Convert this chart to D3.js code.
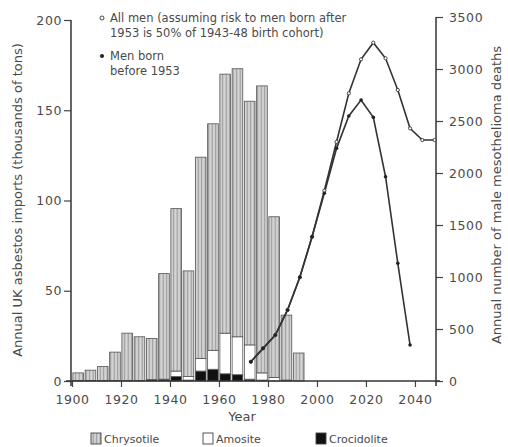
<!DOCTYPE html>
<html>
<head>
<meta charset="utf-8">
<script src="https://cdn.jsdelivr.net/npm/d3@7"></script>
<style>
  body { margin: 0; background: #fff; }
  svg text { font-family: "DejaVu Sans", sans-serif; fill: #4a4a4a; }
</style>
</head>
<body>
<div id="chart"></div>
<script>
const width = 508, height = 447;

// 5-year periods of imports (start year)
const periods = [1900,1905,1910,1915,1920,1925,1930,1935,1940,1945,1950,1955,1960,1965,1970,1975,1980,1985,1990];
// thousands of tons, per fibre type
const chrysotile = [4.2,5.7,7.7,15.7,26.2,24.2,22.7,58.5,90,58.5,111.5,125.5,143.5,148.5,135,159,89,36,15.5];
const amosite =    [0,0,0,0,0,0,0,0,3,2,7,10.5,22.5,21,19,4,2,0.5,0];
const crocidolite = [0.3,0.3,0.3,0.3,0.3,0.3,0.8,1,2.5,0.5,5.5,6.5,4,3.5,1,0.5,0,0,0];

// predicted male mesothelioma deaths
const deathYearsBefore = [1973,1978,1983,1988,1993,1998,2003,2008,2013,2018,2023,2028,2033,2038];
const deathsBefore = [185,314,442,683,997,1387,1805,2237,2548,2702,2535,1964,1132,346];
const deathYearsAll = [1973,1978,1983,1988,1993,1998,2003,2008,2013,2018,2023,2028,2033,2038,2043,2048];
const deathsAll = [185,314,442,683,997,1387,1830,2300,2766,3093,3253,3103,2798,2430,2317,2317];

const leftTicks = [0,50,100,150,200];
const rightTicks = [0,500,1000,1500,2000,2500,3000,3500];
const yearTicks = [1900,1920,1940,1960,1980,2000,2020,2040];

const svg = d3.select('#chart').append('svg')
  .attr('width', width)
  .attr('height', height);

// striped fill for chrysotile
const pat = svg.append('defs').append('pattern')
  .attr('id', 'stripes')
  .attr('patternUnits', 'userSpaceOnUse')
  .attr('width', 3.5).attr('height', 10)
pat.append('rect').attr('width', 3.5).attr('height', 10).attr('fill', '#d6d6d6')
pat.append('rect').attr('x', 1.6).attr('width', 1.2).attr('height', 10).attr('fill', '#9a9a9a')

const xScale = d3.scaleLinear().domain([1900, 2049]).range([72, 437]);
const yLeft = d3.scaleLinear().domain([0, 200]).range([381, 20]);
const yRight = d3.scaleLinear().domain([0, 3500]).range([381, 17]);

// stacked bars: crocidolite bottom, amosite, chrysotile on top
const rows = periods.map((p, i) => ({
  period: p, crocidolite: crocidolite[i], amosite: amosite[i], chrysotile: chrysotile[i]
}));
const series = d3.stack().keys(['crocidolite','amosite','chrysotile'])(rows);
const fills = {crocidolite: '#111', amosite: '#fff', chrysotile: 'url(#stripes)'};

svg.append('g')
  .selectAll('g')
  .data(series)
  .join('g')
  .attr('fill', d => fills[d.key])
  .attr('stroke', '#555')
  .attr('stroke-width', 0.8)
  .selectAll('rect')
  .data(d => d.filter(v => v[1] - v[0] > 0))
  .join('rect')
  .attr('x', d => xScale(d.data.period) + 0.9)
  .attr('width', d => xScale(d.data.period + 5) - xScale(d.data.period) - 1.6)
  .attr('y', d => yLeft(d[1]))
  .attr('height', d => yLeft(d[0]) - yLeft(d[1]));

// axes
const fontSize = 12.5;
const styleAxis = g => {
  g.select('.domain').remove();
  g.selectAll('.tick line').attr('stroke', '#444').attr('stroke-width', 1.2);
  g.selectAll('.tick text')
    .style('font-size', fontSize + 'px')
    .style('letter-spacing', '0.6px')
    .attr('fill', '#4a4a4a');
}

svg.append('g')
  .attr('transform', 'translate(71,0)')
  .call(d3.axisLeft(yLeft).tickValues(leftTicks).tickSize(7).tickPadding(2))
  .call(styleAxis);

svg.append('g')
  .attr('transform', 'translate(436,0)')
  .call(d3.axisRight(yRight).tickValues(rightTicks).tickFormat(d3.format('d')).tickSize(7).tickPadding(6))
  .call(styleAxis);

svg.append('g')
  .attr('transform', 'translate(0,381)')
  .call(d3.axisBottom(xScale).tickValues(yearTicks).tickFormat(d3.format('d')).tickSize(6).tickPadding(8))
  .call(styleAxis);

// axis lines
svg.append('line').attr('x1', 71).attr('x2', 71).attr('y1', 20).attr('y2', 386)
  .attr('stroke', '#333').attr('stroke-width', 1.5);
svg.append('line').attr('x1', 436).attr('x2', 436).attr('y1', 17).attr('y2', 386)
  .attr('stroke', '#333').attr('stroke-width', 1.5);
svg.append('line').attr('x1', 66).attr('x2', 440).attr('y1', 381).attr('y2', 381)
  .attr('stroke', '#333').attr('stroke-width', 1.5);

// death projection lines
const lineGen = (years) => d3.line()
  .x((d, i) => xScale(years[i]))
  .y(d => yRight(d));

svg.append('path')
  .attr('d', lineGen(deathYearsAll)(deathsAll))
  .attr('fill', 'none').attr('stroke', '#333').attr('stroke-width', 1.6);
svg.append('path')
  .attr('d', lineGen(deathYearsBefore)(deathsBefore))
  .attr('fill', 'none').attr('stroke', '#333').attr('stroke-width', 1.6);

svg.append('g')
  .selectAll('circle')
  .data(deathsAll)
  .join('circle')
  .attr('cx', (d, i) => xScale(deathYearsAll[i]))
  .attr('cy', d => yRight(d))
  .attr('r', 1.6)
  .attr('fill', '#fff').attr('stroke', '#333').attr('stroke-width', 0.9);

svg.append('g')
  .selectAll('circle')
  .data(deathsBefore)
  .join('circle')
  .attr('cx', (d, i) => xScale(deathYearsBefore[i]))
  .attr('cy', d => yRight(d))
  .attr('r', 1.8)
  .attr('fill', '#222');

// axis titles
svg.append('text')
  .attr('transform', 'translate(22,200) rotate(-90)')
  .attr('text-anchor', 'middle')
  .style('font-size', '13px')
  .text('Annual UK asbestos imports (thousands of tons)');

svg.append('text')
  .attr('transform', 'translate(501,195) rotate(-90)')
  .attr('text-anchor', 'middle')
  .style('font-size', '13px')
  .text('Annual number of male mesothelioma deaths');

svg.append('text')
  .attr('x', 242).attr('y', 421)
  .attr('text-anchor', 'middle')
  .style('font-size', '13px')
  .text('Year');

// top legend
const legendTop = svg.append('g').style('font-size', '11.5px');
legendTop.append('circle').attr('cx', 102).attr('cy', 18).attr('r', 2)
  .attr('fill', '#fff').attr('stroke', '#333').attr('stroke-width', 0.9);
legendTop.append('text').attr('x', 110).attr('y', 22).text('All men (assuming risk to men born after');
legendTop.append('text').attr('x', 110).attr('y', 37).text('1953 is 50% of 1943-48 birth cohort)');
legendTop.append('circle').attr('cx', 102).attr('cy', 56).attr('r', 2).attr('fill', '#222');
legendTop.append('text').attr('x', 110).attr('y', 60).text('Men born');
legendTop.append('text').attr('x', 110).attr('y', 75).text('before 1953');

// bottom legend
const legendItems = [
  {label: 'Chrysotile', fill: 'url(#stripes)', x: 91},
  {label: 'Amosite', fill: '#fff', x: 203},
  {label: 'Crocidolite', fill: '#111', x: 316}
];
const legendBottom = svg.append('g')
  .selectAll('g')
  .data(legendItems)
  .join('g')
  .attr('transform', d => `translate(${d.x},433)`);
legendBottom.append('rect')
  .attr('width', 10).attr('height', 11)
  .attr('fill', d => d.fill)
  .attr('stroke', '#444').attr('stroke-width', 0.9);
legendBottom.append('text')
  .attr('x', 13).attr('y', 10)
  .style('font-size', '11px')
  .text(d => d.label);
</script>
</body>
</html>
